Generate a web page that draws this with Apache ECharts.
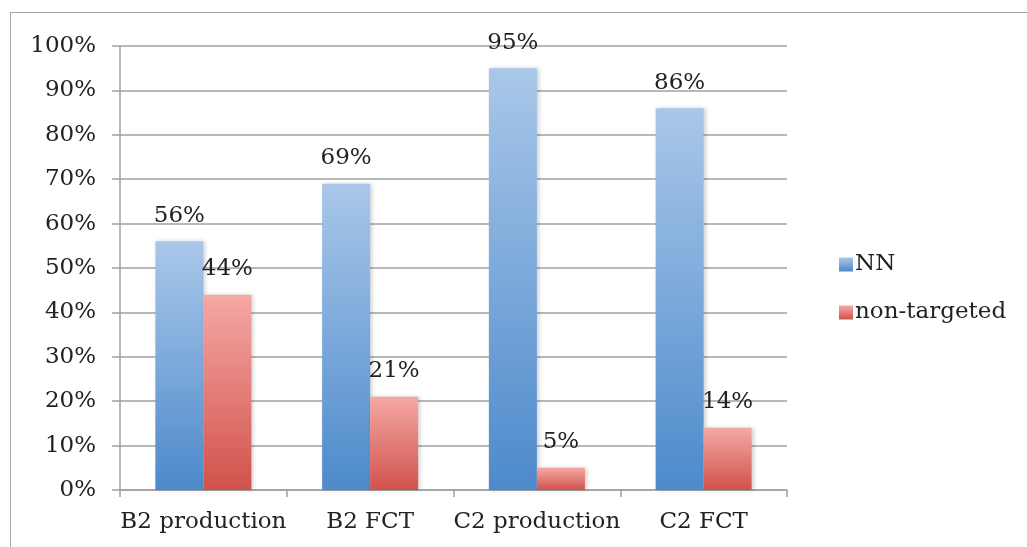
<!DOCTYPE html>
<html>
<head>
<meta charset="utf-8">
<script src="https://cdn.jsdelivr.net/npm/echarts@6/dist/echarts.min.js"></script>
<style>
  html, body { margin: 0; padding: 0; background: #fff; }
  #frame { position: absolute; left: 10px; top: 12px; width: 1030px; height: 560px;
           border-left: 1px solid #a6a6a6; border-top: 1px solid #a6a6a6; }
  #chart { position: absolute; left: 0; top: 0; width: 1027px; height: 547px; }
</style>
</head>
<body>
<div id="frame"></div>
<div id="chart"></div>
<script>
const categories = ['B2 production', 'B2 FCT', 'C2 production', 'C2 FCT'];
const nnValues = [56, 69, 95, 86];
const nonTargetedValues = [44, 21, 5, 14];
const yTicks = [0, 10, 20, 30, 40, 50, 60, 70, 80, 90, 100];

const FONT = '"DejaVu Serif", "Liberation Serif", serif';
const FS = 23;
const TEXT = '#222';

function grad(top, bottom) {
  return new echarts.graphic.LinearGradient(0, 0, 0, 1, [
    { offset: 0, color: top }, { offset: 1, color: bottom }
  ]);
}

const chart = echarts.init(document.getElementById('chart'), null, { renderer: 'canvas' });
chart.setOption({
  animation: false,
  backgroundColor: 'transparent',
  grid: { left: 120, right: 240, top: 46, bottom: 57, containLabel: false },
  legend: {
    orient: 'vertical',
    left: 834,
    top: 248,
    itemWidth: 14,
    itemHeight: 14,
    itemGap: 25,
    icon: 'rect',
    textStyle: { fontFamily: FONT, fontSize: FS, color: TEXT, padding: [0, 0, 0, -3] },
    data: ['NN', 'non-targeted']
  },
  xAxis: {
    type: 'category',
    data: categories,
    axisLine: { lineStyle: { color: '#a0a0a0', width: 1.5 } },
    axisTick: { show: true, interval: 0, length: 7, lineStyle: { color: '#a0a0a0', width: 1.5 } },
    axisLabel: { interval: 0, fontFamily: FONT, fontSize: FS, color: TEXT, margin: 21 }
  },
  yAxis: {
    type: 'value',
    min: 0, max: 100, interval: 10,
    axisLine: { show: true, lineStyle: { color: '#a0a0a0', width: 1.5 } },
    axisTick: { show: true, length: 8, lineStyle: { color: '#a0a0a0', width: 1.5 } },
    splitLine: { lineStyle: { color: '#a0a0a0', width: 1.5 } },
    axisLabel: {
      fontFamily: FONT, fontSize: FS, color: TEXT, margin: 24,
      formatter: v => yTicks.includes(v) ? v + '%' : ''
    }
  },
  series: [
    {
      name: 'NN',
      type: 'bar',
      data: nnValues,
      barWidth: 48,
      barGap: '0%',
      itemStyle: {
        color: grad('#a9c7e9', '#4d8acb'),
        shadowColor: 'rgba(0,0,0,0.18)', shadowBlur: 4, shadowOffsetX: 2
      },
      label: {
        show: true, position: 'top', distance: 14,
        formatter: p => p.value + '%',
        fontFamily: FONT, fontSize: FS, color: TEXT
      }
    },
    {
      name: 'non-targeted',
      type: 'bar',
      data: nonTargetedValues,
      barWidth: 48,
      itemStyle: {
        color: grad('#f5a8a5', '#d1524b'),
        shadowColor: 'rgba(0,0,0,0.18)', shadowBlur: 4, shadowOffsetX: 2
      },
      label: {
        show: true, position: 'top', distance: 14,
        formatter: p => p.value + '%',
        fontFamily: FONT, fontSize: FS, color: TEXT
      }
    }
  ]
});
</script>
</body>
</html>
